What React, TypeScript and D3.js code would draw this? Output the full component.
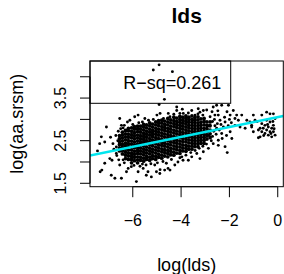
import React from "react";
import * as d3 from "d3";

const W = 284;
const H = 274;

const title = "lds";
const xLabel = "log(lds)";
const yLabel = "log(aa.srsm)";
const xTicks = [-6, -4, -2, 0];
const yTicks = [1.5, 2, 2.5, 3, 3.5, 4];
const yTickLabels = [1.5, 2.5, 3.5];
const fitCoef = [3.054, 0.1158]; // intercept, slope
const rsq = 0.261;

// dense middle of the cloud, read column by column
const coreX = [
  -6.55, -6.43, -6.3, -6.18, -6.05, -5.93, -5.8, -5.68, -5.55, -5.43, -5.3,
  -5.18, -5.05, -4.93, -4.8, -4.68, -4.55, -4.43, -4.3, -4.18, -4.05, -3.93,
  -3.8, -3.68, -3.55, -3.43, -3.3, -3.18, -3.05, -2.93, -2.8,
];
const coreY = [
  [2.26, 2.33, 2.41, 2.48, 2.55, 2.62],
  [2.19, 2.27, 2.34, 2.41, 2.49, 2.56, 2.63, 2.7],
  [2.08, 2.16, 2.23, 2.3, 2.38, 2.44, 2.52, 2.59, 2.66, 2.74],
  [2.06, 2.14, 2.21, 2.28, 2.36, 2.43, 2.5, 2.58, 2.65, 2.73, 2.79],
  [1.98, 2.06, 2.13, 2.2, 2.28, 2.35, 2.42, 2.49, 2.57, 2.64, 2.72, 2.8],
  [2.03, 2.11, 2.18, 2.25, 2.33, 2.4, 2.47, 2.55, 2.62, 2.69, 2.77, 2.83],
  [1.98, 2.05, 2.12, 2.2, 2.27, 2.34, 2.42, 2.49, 2.56, 2.63, 2.71, 2.78, 2.84],
  [2.04, 2.11, 2.19, 2.26, 2.33, 2.41, 2.48, 2.55, 2.62, 2.7, 2.77, 2.84],
  [2.02, 2.09, 2.17, 2.24, 2.31, 2.38, 2.46, 2.53, 2.6, 2.67, 2.75, 2.82, 2.88],
  [2.06, 2.13, 2.21, 2.28, 2.35, 2.43, 2.5, 2.58, 2.65, 2.72, 2.8, 2.87],
  [2.04, 2.11, 2.19, 2.26, 2.33, 2.41, 2.48, 2.55, 2.63, 2.7, 2.77, 2.85, 2.92],
  [2.08, 2.15, 2.23, 2.3, 2.38, 2.45, 2.52, 2.6, 2.67, 2.74, 2.82, 2.89],
  [2.06, 2.13, 2.21, 2.28, 2.35, 2.43, 2.5, 2.57, 2.65, 2.72, 2.79, 2.87, 2.94],
  [2.11, 2.18, 2.26, 2.33, 2.4, 2.48, 2.55, 2.63, 2.7, 2.77, 2.85, 2.92, 2.97],
  [2.09, 2.16, 2.24, 2.31, 2.39, 2.46, 2.53, 2.61, 2.68, 2.76, 2.83, 2.91, 2.98],
  [2.14, 2.22, 2.29, 2.37, 2.44, 2.51, 2.59, 2.66, 2.74, 2.81, 2.88, 2.96],
  [2.12, 2.2, 2.27, 2.35, 2.42, 2.5, 2.57, 2.64, 2.72, 2.79, 2.87, 2.94, 3.02],
  [2.17, 2.25, 2.32, 2.4, 2.47, 2.55, 2.62, 2.7, 2.77, 2.84, 2.92, 2.99],
  [2.16, 2.23, 2.31, 2.38, 2.46, 2.53, 2.6, 2.68, 2.75, 2.83, 2.9, 2.97, 3.05],
  [2.21, 2.29, 2.36, 2.44, 2.51, 2.58, 2.66, 2.73, 2.81, 2.88, 2.95, 3.03],
  [2.2, 2.27, 2.35, 2.42, 2.49, 2.57, 2.64, 2.71, 2.79, 2.86, 2.93, 3.0, 3.07],
  [2.26, 2.33, 2.4, 2.48, 2.55, 2.62, 2.69, 2.77, 2.84, 2.91, 2.98, 3.05],
  [2.25, 2.32, 2.39, 2.47, 2.54, 2.61, 2.68, 2.75, 2.82, 2.89, 2.95, 3.02, 3.08],
  [2.3, 2.37, 2.45, 2.52, 2.59, 2.66, 2.73, 2.8, 2.86, 2.93, 2.99, 3.05],
  [2.3, 2.37, 2.44, 2.51, 2.58, 2.65, 2.72, 2.79, 2.86, 2.93, 3.0, 3.08],
  [2.36, 2.43, 2.5, 2.57, 2.64, 2.71, 2.78, 2.85, 2.92, 2.98, 3.04],
  [2.36, 2.43, 2.5, 2.57, 2.64, 2.71, 2.78, 2.85, 2.92, 2.99, 3.06],
  [2.44, 2.51, 2.58, 2.65, 2.72, 2.79, 2.86, 2.93, 3.01],
  [2.44, 2.51, 2.58, 2.65, 2.72, 2.79, 2.87, 2.95, 3.02],
  [2.54, 2.62, 2.7, 2.78, 2.86, 2.94],
  [2.57, 2.66, 2.75, 2.85, 2.94],
];

// scattered points around the cloud
const sparse: [number, number][] = [
  // top outliers
  [-5.15, 4.16], [-4.91, 4.28], [-4.36, 4.12], [-4.69, 3.47], [-4.91, 3.35], [-4.18, 3.29],
  // left / bottom fringe
  [-7.46, 2.26], [-7.35, 1.77], [-7.09, 2.82], [-7.3, 2.59], [-7.16, 2.47], [-7.37, 2.43],
  [-6.82, 2.43], [-6.54, 3.02], [-6.22, 2.94], [-6.12, 2.98], [-6.47, 2.86], [-6.86, 2.04],
  [-7.28, 1.81], [-6.89, 1.69], [-6.74, 1.62], [-6.47, 1.62], [-6.26, 1.77], [-6.54, 1.93],
  [-6.68, 2.2], [-6.47, 2.32], [-5.85, 1.54], [-6.06, 1.89], [-6.19, 1.85], [-5.78, 1.77],
  [-5.57, 1.85], [-5.23, 1.65], [-5.44, 1.69], [-7.16, 1.97], [-6.95, 2.08], [-5.37, 1.77],
  [-5.02, 1.77], [-4.88, 1.73], [-4.68, 1.81], [-4.54, 1.85], [-4.26, 1.93], [-4.13, 2.0],
  [-3.92, 2.04], [-4.61, 1.97], [-5.09, 1.93], [-4.87, 1.82], [-4.46, 1.81], [-3.97, 2.12],
  [-3.7, 2.04], [-3.56, 2.12], [-3.35, 2.2], [-3.22, 2.08], [-3.08, 2.24], [-2.87, 2.32],
  [-2.67, 2.43], [-2.46, 2.39], [-6.35, 1.98], [-5.7, 1.9], [-5.45, 1.93], [-5.25, 1.96],
  [-4.98, 1.98], [-4.75, 2.01], [-4.4, 2.06], [-4.05, 2.1], [-3.8, 2.16], [-3.6, 2.22],
  [-3.42, 2.27], [-3.25, 2.32], [-3.1, 2.37], [-2.95, 2.42], [-5.95, 1.92], [-6.4, 2.05],
  [-5.6, 1.95],
  // left edge
  [-6.68, 2.35], [-6.62, 2.5], [-6.7, 2.62], [-6.6, 2.72], [-6.66, 2.15], [-6.58, 2.05],
  [-6.78, 2.3], [-6.5, 2.78], [-6.4, 2.8], [-6.35, 2.86], [-6.92, 2.58],
  // top edge
  [-5.92, 3.06], [-5.78, 3.1], [-5.0, 3.1], [-4.87, 3.14], [-4.53, 3.14], [-4.18, 3.21],
  [-3.91, 3.14], [-3.56, 3.21], [-3.42, 3.1], [-4.46, 3.06], [-4.73, 3.02], [-3.95, 3.24],
  [-3.22, 3.17], [-2.94, 3.22], [-2.67, 3.29], [-2.53, 3.33], [-2.8, 3.06], [-2.6, 3.1],
  [-3.29, 3.25], [-3.08, 3.21], [-2.32, 3.33], [-2.04, 3.33], [-5.6, 2.94], [-5.35, 2.98],
  [-5.15, 3.0], [-5.5, 3.02], [-6.0, 2.88], [-5.75, 2.92], [-4.3, 3.12], [-4.05, 3.14],
  [-3.7, 3.15], [-3.3, 3.13], [-3.1, 3.1],
  // right of the cloud
  [-2.46, 3.1], [-2.39, 2.98], [-2.18, 2.94], [-2.25, 2.82], [-2.53, 2.79], [-1.77, 2.86],
  [-1.63, 2.98], [-1.97, 2.71], [-1.9, 2.55], [-2.32, 2.67], [-2.46, 2.51], [-2.18, 2.36],
  [-2.09, 2.22], [-1.84, 3.21], [-1.7, 3.1], [-1.49, 3.1], [-1.28, 2.98], [-1.15, 2.94],
  [-1.56, 2.82], [-1.35, 2.79], [-1.08, 2.82], [-0.94, 2.98], [-1.01, 3.1], [-1.97, 3.1],
  [-1.77, 3.02], [-1.08, 2.86], [-1.01, 2.71], [-0.8, 2.75], [-0.73, 2.59], [-2.7, 2.6],
  [-2.65, 2.72], [-2.6, 2.85], [-2.7, 2.95], [-2.55, 2.65], [-2.5, 2.9], [-2.42, 2.75],
  [-2.35, 2.88], [-2.3, 2.55], [-2.75, 2.5], [-2.62, 3.0], [-2.2, 3.05], [-2.12, 2.62],
  [-2.05, 2.85], [-2.0, 3.0], [-1.92, 2.92], [-2.1, 3.18], [-2.85, 2.62], [-2.88, 2.85],
  [-2.72, 3.18], [-2.48, 3.2],
  // cluster near zero
  [-0.66, 3.1], [-0.46, 3.17], [-0.32, 3.13], [-0.18, 3.13], [-0.66, 2.9], [-0.53, 2.86],
  [-0.39, 2.82], [-0.25, 2.79], [-0.18, 2.71], [-0.32, 2.71], [-0.46, 2.75], [-0.6, 2.79],
  [-0.73, 2.79], [-0.11, 2.63], [-0.25, 2.59], [-0.39, 2.63], [-0.8, 2.57], [-0.53, 2.67],
  [-0.66, 2.71], [-0.18, 2.86], [-0.32, 2.94], [-0.46, 2.98], [-0.11, 3.02], [-0.85, 2.95],
  [-0.28, 2.67], [-0.15, 2.78], [-0.42, 2.88], [-0.2, 2.95], [-0.58, 2.62],
];

const corePoints: [number, number][] = coreX.flatMap((x, i) =>
  coreY[i].map((y) => [x, y] as [number, number])
);

const FONT = "'Liberation Sans', Arial, Helvetica, sans-serif";

export default function App() {
  const left = 90;
  const right = 283.3;
  const top = 61;
  const bottom = 186.7;

  const x = d3.scaleLinear().domain([-7.77, 0.23]).range([left, right]);
  const y = d3.scaleLinear().domain([1.42, 4.37]).range([bottom, top]);
  const fmt = d3.format("");

  const fitLine = d3
    .line<number>()
    .x((d) => x(d))
    .y((d) => y(fitCoef[0] + fitCoef[1] * d));

  return (
    <svg
      width={W}
      height={H}
      style={{ position: "absolute", left: 0, top: 0, background: "#fff" }}
      fontFamily={FONT}
    >
      <rect width={W} height={H} fill="#fff" />
      <text x={(left + right) / 2} y={23.3} textAnchor="middle" fontSize={21} fontWeight="bold">
        {title}
      </text>

      <defs>
        <clipPath id="plotArea">
          <rect x={left} y={top} width={right - left} height={bottom - top} />
        </clipPath>
      </defs>

      <g clipPath="url(#plotArea)">
        {/* overlapping points in the middle merge into a solid patch */}
        {corePoints.map(([px, py], i) => (
          <circle key={`c${i}`} cx={x(px)} cy={y(py)} r={1.9} fill="#000" />
        ))}
        {sparse.map(([px, py], i) => (
          <circle key={`s${i}`} cx={x(px)} cy={y(py)} r={1.45} fill="#000" />
        ))}
        <path d={fitLine(x.domain()) ?? ""} stroke="#00e5ee" strokeWidth={2.5} fill="none" />
      </g>

      {/* legend, no fill */}
      <rect x={left} y={top} width={140.7} height={42.3} fill="none" stroke="#000" strokeWidth={1} />
      <text x={123.3} y={89.3} fontSize={18}>
        {`R\u2212sq=${rsq}`}
      </text>

      <rect x={left} y={top} width={right - left} height={bottom - top} fill="none" stroke="#000" strokeWidth={1} />

      {/* x axis */}
      <line x1={x(xTicks[0])} x2={x(xTicks[xTicks.length - 1])} y1={bottom} y2={bottom} stroke="#000" />
      {xTicks.map((t) => (
        <g key={t}>
          <line x1={x(t)} x2={x(t)} y1={bottom} y2={bottom + 10.5} stroke="#000" />
          <text x={x(t)} y={226} textAnchor="middle" fontSize={16}>
            {fmt(t)}
          </text>
        </g>
      ))}
      <text x={(left + right) / 2} y={271} textAnchor="middle" fontSize={18}>
        {xLabel}
      </text>

      {/* y axis */}
      <line x1={left} x2={left} y1={y(yTicks[0])} y2={y(yTicks[yTicks.length - 1])} stroke="#000" />
      {yTicks.map((t) => (
        <line key={t} x1={left - 10} x2={left} y1={y(t)} y2={y(t)} stroke="#000" />
      ))}
      {yTickLabels.map((t) => (
        <text
          key={t}
          transform={`translate(65.7,${y(t)}) rotate(-90)`}
          textAnchor="middle"
          fontSize={16}
        >
          {fmt(t)}
        </text>
      ))}
      <text
        transform={`translate(23.3,${(top + bottom) / 2}) rotate(-90)`}
        textAnchor="middle"
        fontSize={18}
      >
        {yLabel}
      </text>
    </svg>
  );
}
